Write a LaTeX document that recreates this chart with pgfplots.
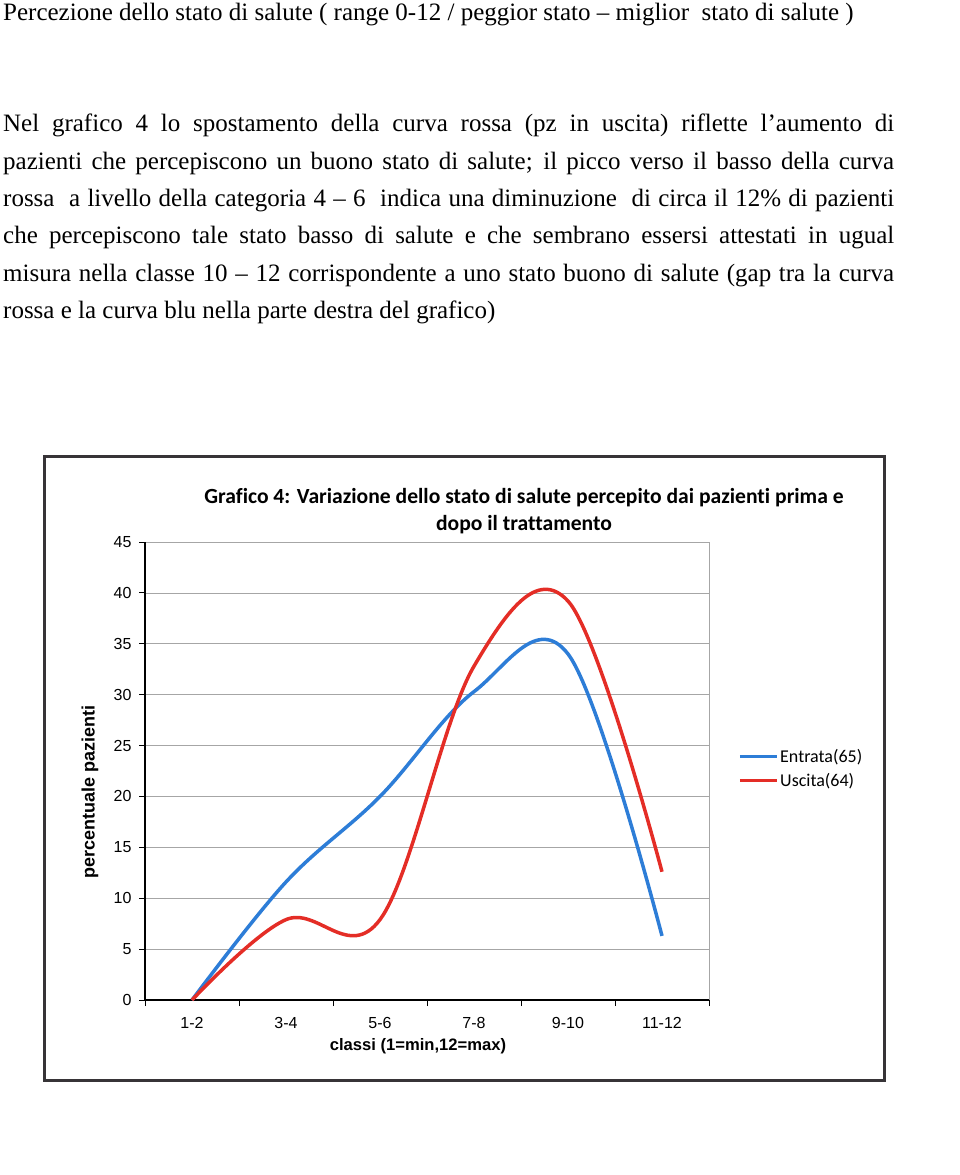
\documentclass[border=0pt]{standalone}
\usepackage{pgfplots}
\pgfplotsset{compat=1.18}
\usepackage{fontspec}
\setmainfont{Liberation Serif}
\newfontfamily\arial{Liberation Sans}
\newfontfamily\calibri[Ligatures={NoCommon}]{Carlito}
\definecolor{cblue}{RGB}{45,125,215}
\definecolor{cred}{RGB}{228,45,38}
\definecolor{frame}{RGB}{55,52,55}
\newcommand{\bodyfont}{\fontsize{25bp}{30bp}\selectfont}
\begin{document}
\begin{tikzpicture}[x=1bp,y=1bp]
\path[use as bounding box] (0,0) rectangle (960,-1175);
% heading and paragraph
\node[anchor=base west, inner sep=0, font=\bodyfont] at (3,-20) {Percezione dello stato di salute ( range 0-12 / peggior stato -- miglior\ \ stato di salute )};
\node[anchor=base west, inner sep=0, font=\bodyfont] at (3,-131.7) {\makebox[891bp][s]{Nel grafico 4 lo spostamento della curva rossa (pz in uscita) riflette l’aumento di}};
\node[anchor=base west, inner sep=0, font=\bodyfont] at (3,-169.1) {\makebox[891bp][s]{pazienti che percepiscono un buono stato di salute; il picco verso il basso della curva}};
\node[anchor=base west, inner sep=0, font=\bodyfont] at (3,-206.5) {\makebox[891bp][s]{rossa\ \ a livello della categoria 4 -- 6\ \ indica una diminuzione\ \ di circa il 12\% di pazienti}};
\node[anchor=base west, inner sep=0, font=\bodyfont] at (3,-243.9) {\makebox[891bp][s]{che percepiscono tale stato basso di salute e che sembrano essersi attestati in ugual}};
\node[anchor=base west, inner sep=0, font=\bodyfont] at (3,-281.3) {\makebox[891bp][s]{misura nella classe 10 -- 12 corrispondente a uno stato buono di salute (gap tra la curva}};
\node[anchor=base west, inner sep=0, font=\bodyfont] at (3,-318.7) {rossa e la curva blu nella parte destra del grafico)};
% chart frame
\draw[line width=3bp, frame] (44,-456) rectangle (884,-1080);
% chart title
\node[inner sep=0, font=\calibri\bfseries\fontsize{21.6bp}{24bp}\selectfont] at (524,-498) {Grafico 4: Variazione dello stato di salute percepito dai pazienti prima e};
\node[inner sep=0, font=\calibri\bfseries\fontsize{21.6bp}{24bp}\selectfont] at (524,-525) {dopo il trattamento};
\begin{axis}[
  at={(145bp,-1000bp)}, anchor=south west,
  scale only axis, width=564bp, height=458bp,
  xmin=-0.5, xmax=5.5, ymin=0, ymax=45,
  axis lines=left,
  axis line style={-, black, line width=1.1bp},
  ytick={0,5,...,45},
  xtick={-0.5,0.5,...,5.5},
  xticklabels={1-2,3-4,5-6,7-8,9-10,11-12,{}},
  xticklabel style={xshift=47bp, yshift=-8bp},
  yticklabel style={xshift=-4bp},
  /pgf/number format/assume math mode=true,
  tick align=outside,
  major tick length=6bp,
  tick style={black, line width=0.9bp},
  ymajorgrids,
  major grid style={black!35, line width=0.8bp},
  ticklabel style={font=\arial\fontsize{16bp}{18bp}\selectfont},
  ylabel={percentuale pazienti},
  xlabel={classi (1=min,12=max)},
  every axis y label/.style={at={(axis description cs:-0.0975,0.454)}, rotate=90, anchor=center, font=\arial\bfseries\fontsize{18bp}{20bp}\selectfont},
  every axis x label/.style={at={(axis description cs:0.484,-0.1)}, anchor=center, font=\arial\bfseries\fontsize{16.6bp}{19bp}\selectfont},
  clip=false,
  legend style={at={(axis description cs:1.0514,0.5055)}, anchor=west, draw=none, fill=none,
    inner sep=0pt, font=\calibri\fontsize{18bp}{21bp}\selectfont, row sep=7bp,
    nodes={inner xsep=1.5bp, inner ysep=1bp}},
  legend cell align=left,
  legend image code/.code={\draw[#1] (0bp,0bp) -- (37bp,0bp);},
]
\draw[black!35, line width=0.8bp] (rel axis cs:1,0) -- (rel axis cs:1,1);
\addplot[cblue, line width=3.5bp, smooth, tension=0.6] coordinates {(0,0) (1,11.6) (2,20) (3,30.3) (4,34.0) (5,6.3)};
\addlegendentry{Entrata(65)}
\addplot[cred, line width=3.5bp, smooth, tension=0.6] coordinates {(0,0) (1,7.9) (2,7.9) (3,32.8) (4,39.2) (5,12.6)};
\addlegendentry{Uscita(64)}
\end{axis}
\end{tikzpicture}
\end{document}
